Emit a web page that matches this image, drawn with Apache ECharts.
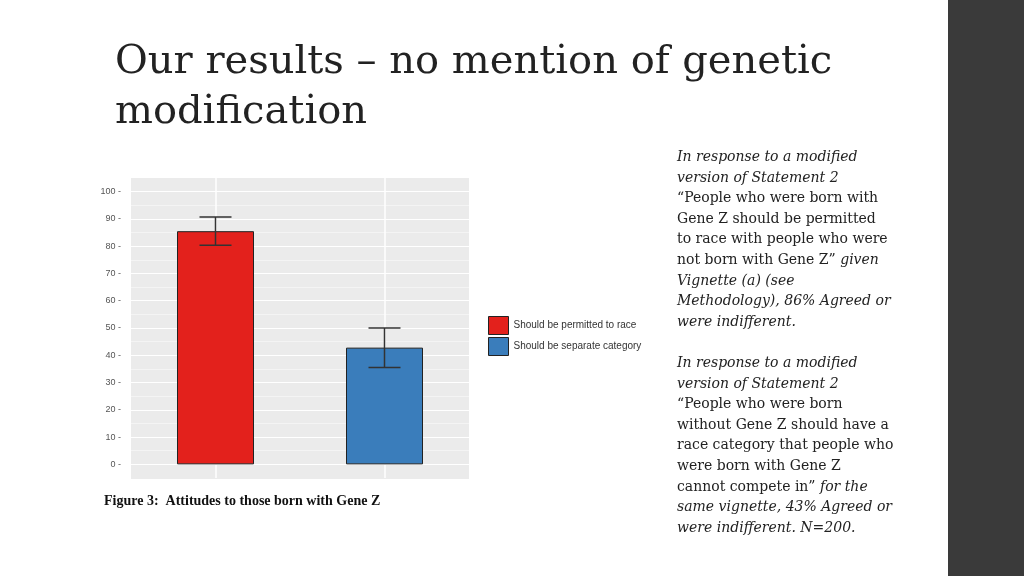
<!DOCTYPE html>
<html>
<head>
<meta charset="utf-8">
<script src="https://cdn.jsdelivr.net/npm/echarts@6/dist/echarts.min.js"></script>
<style>
  html, body { margin: 0; padding: 0; background: #fff; }
  #chart { width: 1024px; height: 576px; }
</style>
</head>
<body>
<div id="chart"></div>
<script>
// data
const categories = ['Should be permitted to race', 'Should be separate category'];
const means = [85.5, 42.8];
const lows = [80.3, 35.5];
const highs = [90.7, 50.0];
const barColors = ['#e3211c', '#3a7dbb'];

const serif = '"Liberation Serif", "DejaVu Serif", serif';
const wideSerif = '"DejaVu Serif", "Liberation Serif", serif';

// right-hand note, rich text lines: [style, text] pairs
const noteLines = [
    [['i', 'In response to a modified']],
    [['i', 'version of Statement 2']],
    [['n', '“People who were born with']],
    [['n', 'Gene Z should be permitted']],
    [['n', 'to race with people who were']],
    [['n', 'not born with Gene Z”'], ['i', ' given']],
    [['i', 'Vignette (a) (see']],
    [['i', 'Methodology), 86% Agreed or']],
    [['i', 'were indifferent.']],
    [['n', ' ']],
    [['i', 'In response to a modified']],
    [['i', 'version of Statement 2']],
    [['n', '“People who were born']],
    [['n', 'without Gene Z should have a']],
    [['n', 'race category that people who']],
    [['n', 'were born with Gene Z']],
    [['n', 'cannot compete in”'], ['i', ' for the']],
    [['i', 'same vignette, 43% Agreed or']],
    [['i', 'were indifferent. N=200.']]
];
const noteText = noteLines.map(l => l.map(([s, t]) => '{' + s + '|' + t + '}').join('')).join('\n');

// alternating minor / major grid colours for ticks -5, 0, 5, ... 105
const gridColors = [];
for (let v = -5; v <= 105; v += 5) {
    if (v < 0 || v > 100) gridColors.push('#ebebeb');
    else gridColors.push(v % 10 === 0 ? '#ffffff' : '#f4f4f4');
}

const chart = echarts.init(document.getElementById('chart'));
chart.setOption({
    animation: false,
    backgroundColor: '#fff',
    grid: { left: 131, right: 555, top: 178, bottom: 98, backgroundColor: '#ebebeb', show: true, borderWidth: 0 },
    legend: {
        orient: 'vertical',
        left: 483, top: 311,
        icon: 'rect',
        itemWidth: 20, itemHeight: 18, itemGap: 2,
        textStyle: { fontSize: 10, color: '#333', fontFamily: 'Liberation Sans' },
        data: categories,
        itemStyle: { borderColor: '#222', borderWidth: 1 }
    },
    xAxis: {
        type: 'category',
        data: categories,
        axisLine: { show: false }, axisTick: { show: false }, axisLabel: { show: false },
        splitLine: { show: false }
    },
    yAxis: {
        type: 'value', min: -5, max: 105, interval: 5,
        axisLine: { show: false },
        axisTick: { show: false },
        axisLabel: {
            fontSize: 9, color: '#555', margin: 10, fontFamily: 'Liberation Sans',
            formatter: v => (v >= 0 && v <= 100 && v % 10 === 0) ? v + ' -' : ''
        },
        splitLine: { lineStyle: { color: gridColors, width: 1.2 } }
    },
    series: [
        {
            name: categories[0], type: 'bar', stack: 'a', barWidth: 77,
            itemStyle: { color: barColors[0], borderColor: '#222', borderWidth: 1 },
            data: [means[0], '-'],
            markLine: {
                silent: true, symbol: 'none', label: { show: false },
                lineStyle: { color: '#fff', type: 'solid', width: 1.5 },
                data: [{ xAxis: 0 }, { xAxis: 1 }],
                z: 0
            },
            z: 2
        },
        {
            name: categories[1], type: 'bar', stack: 'a', barWidth: 77,
            itemStyle: { color: barColors[1], borderColor: '#222', borderWidth: 1 },
            data: ['-', means[1]],
            z: 2
        },
        {
            type: 'custom', z: 5,
            data: categories.map((c, i) => [i, lows[i], highs[i]]),
            renderItem: (params, api) => {
                const lo = api.coord([api.value(0), api.value(1)]);
                const hi = api.coord([api.value(0), api.value(2)]);
                const w = 16;
                const style = { stroke: '#333', lineWidth: 1.5 };
                return {
                    type: 'group',
                    children: [
                        { type: 'line', shape: { x1: lo[0], y1: lo[1], x2: hi[0], y2: hi[1] }, style },
                        { type: 'line', shape: { x1: lo[0] - w, y1: lo[1], x2: lo[0] + w, y2: lo[1] }, style },
                        { type: 'line', shape: { x1: hi[0] - w, y1: hi[1], x2: hi[0] + w, y2: hi[1] }, style }
                    ]
                };
            }
        }
    ],
    graphic: [
        { type: 'rect', right: 0, top: 0, shape: { width: 76, height: 576 }, style: { fill: '#3a3a3a' } },
        {
            type: 'text', left: 115, top: 38,
            style: {
                text: 'Our results – no mention of genetic\nmodification',
                font: '40px ' + wideSerif, fill: '#222', lineHeight: 50
            }
        },
        {
            type: 'text', left: 104, top: 494,
            style: { text: 'Figure 3:  Attitudes to those born with Gene Z', font: 'bold 14px ' + serif, fill: '#111' }
        },
        {
            type: 'text', left: 677, top: 147,
            style: {
                text: noteText, lineHeight: 20.6,
                rich: {
                    i: { font: 'italic 14px ' + wideSerif, fill: '#222', lineHeight: 20.6 },
                    n: { font: '14px ' + wideSerif, fill: '#222', lineHeight: 20.6 }
                }
            }
        }
    ]
});
</script>
</body>
</html>
